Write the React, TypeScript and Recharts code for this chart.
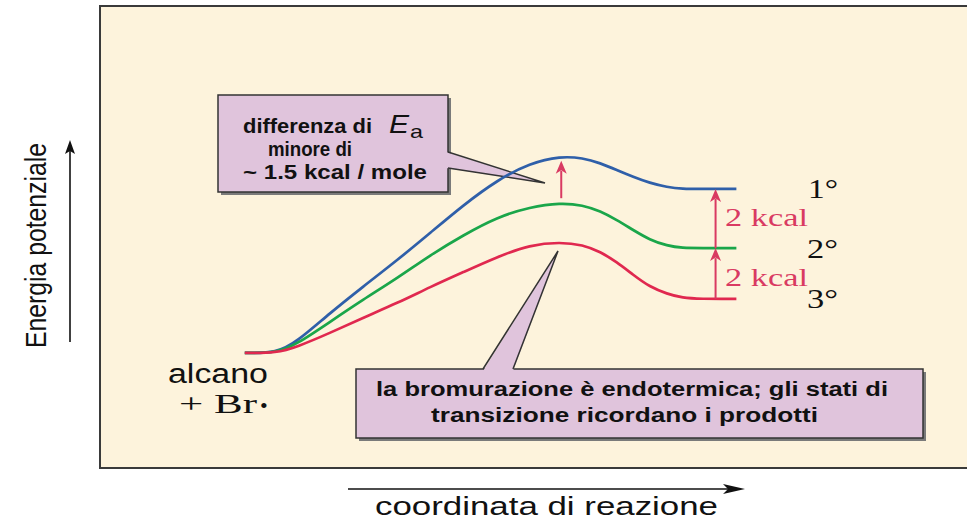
import React from 'react';
import { LineChart, Line, XAxis, YAxis, ReferenceLine, Customized } from 'recharts';

// reaction coordinate (0..100 across the frame) and potential energy (0..100 bottom..top)
const reactionCoord = [16.7, 20.4, 22.7, 26.5, 30.3, 34.3, 38.1, 41.9, 45.8, 49.6, 53.1, 55.7, 57.7, 59.6, 61.5, 63.4, 65.4, 67.2, 69.2, 73.4];
const energyPrimary = [24.9, 24.9, 27.3, 33.5, 39.2, 45.0, 50.9, 56.9, 62.3, 66.0, 67.5, 67.1, 66.0, 64.5, 63.0, 61.7, 60.8, 60.4, 60.4, 60.4];
const energySecondary = [24.9, 24.9, 26.8, 31.6, 36.4, 41.1, 46.1, 50.4, 54.3, 56.5, 57.4, 56.9, 55.6, 53.7, 51.5, 49.4, 48.1, 47.6, 47.6, 47.6];
const energyTertiary = [24.9, 24.9, 26.2, 29.2, 32.5, 35.7, 39.2, 42.4, 45.7, 48.3, 48.9, 48.3, 46.8, 44.6, 41.8, 39.2, 37.7, 36.8, 36.6, 36.6];

const levelLabels = ['1°', '2°', '3°'];
const gapLabels = ['2 kcal', '2 kcal'];
const callout1 = ['differenza di', 'E', 'a', 'minore di', '~ 1.5 kcal / mole'];
const callout2 = ['la bromurazione è  endotermica; gli stati di', 'transizione  ricordano  i prodotti'];
const startLabels = ['alcano', '+ Br', '•'];
const axisLabels = ['Energia potenziale', 'coordinata di reazione'];

// arrow annotation anchors (data units)
const gapArrowX = 71.0;
const peakArrowX = 53.2;
const peakArrowFrom = 58.4;
const peakArrowTo = 66.5;

const data = reactionCoord.map((x, i) => ({
  x,
  primary: energyPrimary[i],
  secondary: energySecondary[i],
  tertiary: energyTertiary[i],
}));

const W = 967;
const H = 520;
const M = { top: 6, right: 0, bottom: 52, left: 100 };

const BLUE = '#2f5fa9';
const GREEN = '#1aa64a';
const RED = '#e0284f';
const ARROW = '#d93a62';
const BEIGE = '#fdf3dc';
const LILAC = '#e0c4dc';
const SANS = '"Liberation Sans", Arial, Helvetica, sans-serif';
const SERIF = '"Liberation Serif", "Times New Roman", serif';

const arrowShape = (color: string) => (props: any) => {
  const { x1, y1, x2, y2 } = props;
  if ([x1, y1, x2, y2].some((v) => typeof v !== 'number' || isNaN(v))) return <g />;
  const dx = x2 - x1;
  const dy = y2 - y1;
  const len = Math.hypot(dx, dy) || 1;
  const ux = dx / len;
  const uy = dy / len;
  const hl = 13;
  const hw = 5.5;
  const bx = x2 - ux * hl;
  const by = y2 - uy * hl;
  const px = -uy;
  const py = ux;
  return (
    <g>
      <line x1={x1} y1={y1} x2={bx + ux * 3} y2={by + uy * 3} stroke={color} strokeWidth={2} />
      <polygon
        points={`${x2},${y2} ${bx + px * hw},${by + py * hw} ${bx + ux * 3.5},${by + uy * 3.5} ${bx - px * hw},${by - py * hw}`}
        fill={color}
      />
    </g>
  );
};

const T = (p: any) => {
  const { x, y, len, size, children, weight, family, fill, style, anchor } = p;
  return (
    <text
      x={x}
      y={y}
      textLength={len}
      lengthAdjust="spacingAndGlyphs"
      fontSize={size}
      fontWeight={weight || 'normal'}
      fontFamily={family || SANS}
      fontStyle={style || 'normal'}
      fill={fill || '#111'}
      textAnchor={anchor || 'start'}
    >
      {children}
    </text>
  );
};

const Annotations = () => (
  <g>
    {/* frame */}
    <line x1={100} y1={6} x2={967} y2={6} stroke="#3a3a3a" strokeWidth={2} />
    <line x1={100} y1={468} x2={967} y2={468} stroke="#3a3a3a" strokeWidth={2} />
    <line x1={100} y1={5} x2={100} y2={469} stroke="#3a3a3a" strokeWidth={2} />

    {/* callout 1 */}
    <rect x={221} y={98} width={230} height={97} fill="#7a7a7a" />
    <rect x={218} y={95} width={230} height={97} fill={LILAC} stroke="#333" strokeWidth={1.5} />
    <polygon points="446,152 545,183 446,168" fill={LILAC} />
    <polyline points="448,152 545,183 448,168" fill="none" stroke="#333" strokeWidth={1.5} />
    <T x={243} y={133} len={129} size={20} weight="bold">{callout1[0]}</T>
    <T x={389} y={133} len={20} size={26} style="italic">{callout1[1]}</T>
    <T x={410} y={138} len={13} size={19}>{callout1[2]}</T>
    <T x={268} y={156} len={84} size={20} weight="bold">{callout1[3]}</T>
    <T x={243} y={179} len={184} size={20} weight="bold">{callout1[4]}</T>

    {/* callout 2 */}
    <rect x={359} y={372} width={567} height={69} fill="#7a7a7a" />
    <rect x={356} y={369} width={567} height={69} fill={LILAC} stroke="#333" strokeWidth={1.5} />
    <polygon points="483,371 558,251 513,371" fill={LILAC} />
    <polyline points="483,369 558,251 513,369" fill="none" stroke="#333" strokeWidth={1.5} />
    <T x={376} y={396} len={512} size={19.5} weight="bold">{callout2[0]}</T>
    <T x={431} y={422} len={387} size={19.5} weight="bold">{callout2[1]}</T>

    {/* start labels */}
    <T x={168} y={383} len={100} size={27}>{startLabels[0]}</T>
    <T x={179} y={413} len={78} size={27} family={SERIF}>{startLabels[1]}</T>
    <text x={260} y={413} fontSize={22} fontFamily={SERIF} fill="#111">{startLabels[2]}</text>

    {/* level labels */}
    <T x={808} y={198} len={30} size={28} family={SERIF}>{levelLabels[0]}</T>
    <T x={807} y={258} len={31} size={28} family={SERIF}>{levelLabels[1]}</T>
    <T x={807} y={308} len={31} size={28} family={SERIF}>{levelLabels[2]}</T>
    <T x={725} y={226} len={83} size={26} family={SERIF} fill={ARROW}>{gapLabels[0]}</T>
    <T x={725} y={286} len={83} size={26} family={SERIF} fill={ARROW}>{gapLabels[1]}</T>

    {/* y axis label + arrow */}
    <text
      transform="translate(46,348) rotate(-90)"
      textLength={205}
      lengthAdjust="spacingAndGlyphs"
      fontSize={30}
      fontFamily={SANS}
      fill="#111"
    >
      {axisLabels[0]}
    </text>
    <line x1={70} y1={342} x2={70} y2={150} stroke="#111" strokeWidth={1.6} />
    <polygon points="70,140 65,154 70,151 75,154" fill="#111" />

    {/* x axis label + arrow */}
    <line x1={348} y1={489} x2={735} y2={489} stroke="#111" strokeWidth={1.6} />
    <polygon points="745,489 723,484 728,489 723,494" fill="#111" />
    <T x={375} y={515} len={343} size={26}>{axisLabels[1]}</T>
  </g>
);

export default function App() {
  const n = reactionCoord.length - 1;
  return (
    <div style={{ position: 'absolute', left: 0, top: 0, width: W, height: H, background: '#fff' }}>
      <div style={{ position: 'absolute', left: 100, top: 6, width: W - 100, height: 462, background: BEIGE }} />
      <div style={{ position: 'absolute', left: 0, top: 0 }}>
        <LineChart width={W} height={H} data={data} margin={M}>
          <XAxis type="number" dataKey="x" domain={[0, 100]} hide />
          <YAxis type="number" domain={[0, 100]} hide />
          <Line type="basis" dataKey="primary" stroke={BLUE} strokeWidth={2.7} dot={false} isAnimationActive={false} />
          <Line type="basis" dataKey="secondary" stroke={GREEN} strokeWidth={2.7} dot={false} isAnimationActive={false} />
          <Line type="basis" dataKey="tertiary" stroke={RED} strokeWidth={2.7} dot={false} isAnimationActive={false} />
          <ReferenceLine
            segment={[{ x: gapArrowX, y: energyTertiary[n] }, { x: gapArrowX, y: energySecondary[n] }]}
            shape={arrowShape(ARROW)}
          />
          <ReferenceLine
            segment={[{ x: gapArrowX, y: energySecondary[n] }, { x: gapArrowX, y: energyPrimary[n] }]}
            shape={arrowShape(ARROW)}
          />
          <ReferenceLine
            segment={[{ x: peakArrowX, y: peakArrowFrom }, { x: peakArrowX, y: peakArrowTo }]}
            shape={arrowShape(ARROW)}
          />
          <Customized component={Annotations} />
        </LineChart>
      </div>
    </div>
  );
}
